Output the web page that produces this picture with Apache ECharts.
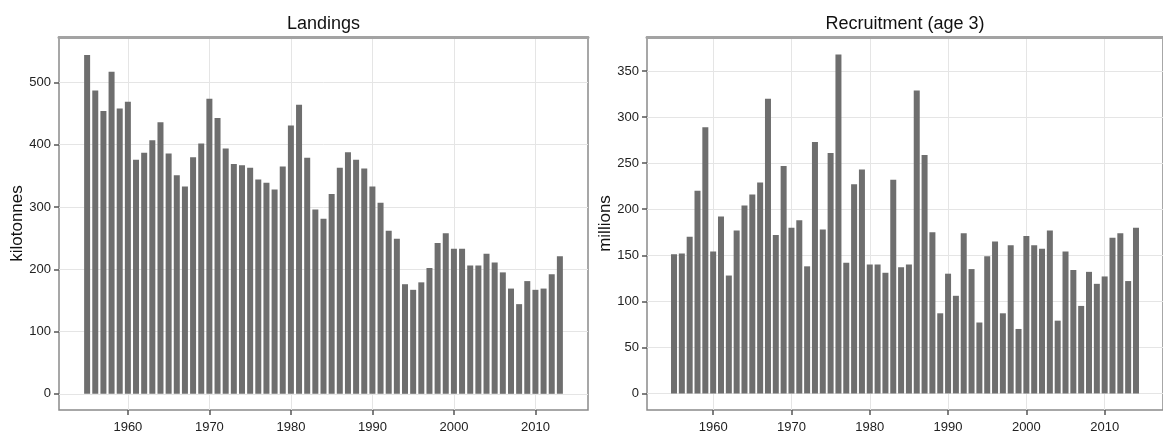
<!DOCTYPE html>
<html>
<head>
<meta charset="utf-8">
<script src="https://cdn.jsdelivr.net/npm/echarts@6/dist/echarts.min.js"></script>
<style>
html,body{margin:0;padding:0;background:#fff;}
#chart{width:1163px;height:435px;}
</style>
</head>
<body>
<div id="chart"></div>
<script>
const yearsLandings = [1955,1956,1957,1958,1959,1960,1961,1962,1963,1964,1965,1966,1967,1968,1969,1970,1971,1972,1973,1974,1975,1976,1977,1978,1979,1980,1981,1982,1983,1984,1985,1986,1987,1988,1989,1990,1991,1992,1993,1994,1995,1996,1997,1998,1999,2000,2001,2002,2003,2004,2005,2006,2007,2008,2009,2010,2011,2012,2013];
const landings = [544,487,454,517,458,469,376,387,407,436,386,351,333,380,402,474,443,394,369,367,363,344,339,328,365,431,464,379,296,281,321,363,388,376,362,333,307,262,249,176,167,179,202,242,258,233,233,206,206,225,211,195,169,144,181,167,169,192,221];

const yearsRecruit = [1955,1956,1957,1958,1959,1960,1961,1962,1963,1964,1965,1966,1967,1968,1969,1970,1971,1972,1973,1974,1975,1976,1977,1978,1979,1980,1981,1982,1983,1984,1985,1986,1987,1988,1989,1990,1991,1992,1993,1994,1995,1996,1997,1998,1999,2000,2001,2002,2003,2004,2005,2006,2007,2008,2009,2010,2011,2012,2013,2014];
const recruitment = [151,152,170,220,289,154,192,128,177,204,216,229,320,172,247,180,188,138,273,178,261,368,142,227,243,140,140,131,232,137,140,329,259,175,87,130,106,174,135,77,149,165,87,161,70,171,161,157,177,79,154,134,95,132,119,127,169,174,122,180];

const xTickLabels = [1960,1970,1980,1990,2000,2010];
const yTicksLandings = [0,100,200,300,400,500];
const yTicksRecruit = [0,50,100,150,200,250,300,350];

const panelTitles = ['Landings','Recruitment (age 3)'];
const yNames = ['kilotonnes','millions'];

const NARROW = "'Liberation Sans Narrow','Liberation Sans',Arial,sans-serif";
const REG = "'Liberation Sans',Arial,sans-serif";
const BAR = '#6e6e6e';

function xAxisBottom(gi, min, max){
  return {
    type:'value', gridIndex:gi, position:'bottom', min:min, max:max,
    axisLine:{show:false, onZero:false},
    axisTick:{show:true, length:5, customValues:xTickLabels, lineStyle:{color:'#555', width:1.5}},
    axisLabel:{show:true, customValues:xTickLabels, margin:11, fontFamily:NARROW, fontSize:13, color:'#222',
               formatter:function(v){return String(v);}},
    splitLine:{show:true, lineStyle:{color:'#e5e5e5', width:1}}
  };
}
function xAxisTop(gi, min, max, title){
  return {
    type:'value', gridIndex:gi, position:'top', min:min, max:max,
    name:title, nameLocation:'middle', nameGap:4,
    nameTextStyle:{fontFamily:NARROW, fontSize:18, color:'#111'},
    axisLine:{show:true, onZero:false, lineStyle:{color:'#a3a3a3', width:3}},
    axisTick:{show:false}, axisLabel:{show:false}, splitLine:{show:false}
  };
}
function yAxisLeft(gi, min, max, ticks, name){
  return {
    type:'value', gridIndex:gi, min:min, max:max,
    name:name, nameLocation:'middle', nameGap:22, nameRotate:90,
    nameTextStyle:{fontFamily:REG, fontSize:17, color:'#111'},
    axisLine:{show:false, onZero:false},
    axisTick:{show:true, length:5, customValues:ticks, lineStyle:{color:'#555', width:1.5}},
    axisLabel:{show:true, customValues:ticks, margin:8, fontFamily:NARROW, fontSize:13, color:'#222',
               formatter:function(v){return String(v);}},
    splitLine:{show:true, lineStyle:{color:'#e5e5e5', width:1}}
  };
}

const option = {
  animation:false,
  backgroundColor:'#ffffff',
  grid:[
    {left:59, right:1163-588, top:37, bottom:25, show:true, borderColor:'#8a8a8a', borderWidth:1.5, containLabel:false},
    {left:647, right:-14, top:37, bottom:25, show:true, borderColor:'#8a8a8a', borderWidth:1.5, containLabel:false}
  ],
  xAxis:[
    xAxisBottom(0, 1951.55, 2016.45),
    xAxisTop(0, 1951.55, 2016.45, panelTitles[0]),
    xAxisBottom(1, 1951.55, 2017.45),
    xAxisTop(1, 1951.55, 2017.45, panelTitles[1])
  ],
  yAxis:[
    yAxisLeft(0, -26, 573, yTicksLandings, yNames[0]),
    yAxisLeft(1, -18, 387, yTicksRecruit, yNames[1])
  ],
  series:[
    {type:'bar', xAxisIndex:0, yAxisIndex:0, barWidth:6,
     itemStyle:{color:BAR}, data:yearsLandings.map((y,i)=>[y, landings[i]])},
    {type:'bar', xAxisIndex:2, yAxisIndex:1, barWidth:6,
     itemStyle:{color:BAR}, data:yearsRecruit.map((y,i)=>[y, recruitment[i]])}
  ]
};
const chart = echarts.init(document.getElementById('chart'), null, {renderer:'canvas'});
chart.setOption(option);
</script>
</body>
</html>
